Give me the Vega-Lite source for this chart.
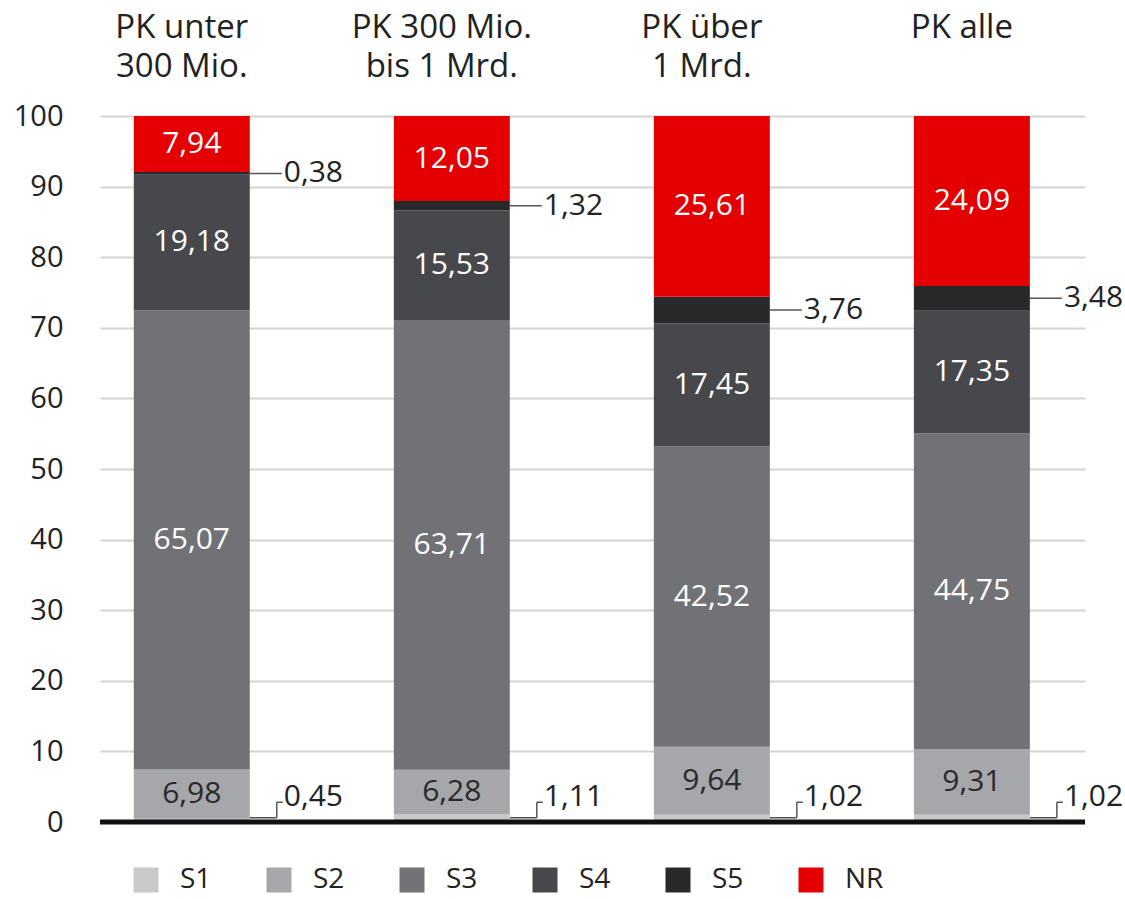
{
  "$schema": "https://vega.github.io/schema/vega-lite/v6.json",
  "width": 985,
  "height": 706,
  "autosize": "none",
  "padding": {"left": 100, "top": 116, "right": 40, "bottom": 77},
  "background": "white",
  "config": {
    "font": "Open Sans",
    "view": {"stroke": null},
    "locale": {"number": {"decimal": ",", "thousands": ".", "grouping": [3], "currency": ["", " €"]}}
  },
  "data": {
    "values": [
      {"group": "PK unter|300 Mio.", "seg": "S1", "value": 0.45},
      {"group": "PK unter|300 Mio.", "seg": "S2", "value": 6.98},
      {"group": "PK unter|300 Mio.", "seg": "S3", "value": 65.07},
      {"group": "PK unter|300 Mio.", "seg": "S4", "value": 19.18},
      {"group": "PK unter|300 Mio.", "seg": "S5", "value": 0.38},
      {"group": "PK unter|300 Mio.", "seg": "NR", "value": 7.94},
      {"group": "PK 300 Mio.|bis 1 Mrd.", "seg": "S1", "value": 1.11},
      {"group": "PK 300 Mio.|bis 1 Mrd.", "seg": "S2", "value": 6.28},
      {"group": "PK 300 Mio.|bis 1 Mrd.", "seg": "S3", "value": 63.71},
      {"group": "PK 300 Mio.|bis 1 Mrd.", "seg": "S4", "value": 15.53},
      {"group": "PK 300 Mio.|bis 1 Mrd.", "seg": "S5", "value": 1.32},
      {"group": "PK 300 Mio.|bis 1 Mrd.", "seg": "NR", "value": 12.05},
      {"group": "PK über|1 Mrd.", "seg": "S1", "value": 1.02},
      {"group": "PK über|1 Mrd.", "seg": "S2", "value": 9.64},
      {"group": "PK über|1 Mrd.", "seg": "S3", "value": 42.52},
      {"group": "PK über|1 Mrd.", "seg": "S4", "value": 17.45},
      {"group": "PK über|1 Mrd.", "seg": "S5", "value": 3.76},
      {"group": "PK über|1 Mrd.", "seg": "NR", "value": 25.61},
      {"group": "PK alle", "seg": "S1", "value": 1.02},
      {"group": "PK alle", "seg": "S2", "value": 9.31},
      {"group": "PK alle", "seg": "S3", "value": 44.75},
      {"group": "PK alle", "seg": "S4", "value": 17.35},
      {"group": "PK alle", "seg": "S5", "value": 3.48},
      {"group": "PK alle", "seg": "NR", "value": 24.09}
    ]
  },
  "transform": [
    {"calculate": "indexof(['S1','S2','S3','S4','S5','NR'], datum.seg)", "as": "ord"},
    {"stack": "value", "groupby": ["group"], "sort": [{"field": "ord", "order": "ascending"}], "as": ["y0", "y1"]},
    {"calculate": "(datum.y0 + datum.y1) / 2", "as": "mid"}
  ],
  "encoding": {
    "x": {
      "field": "group",
      "type": "nominal",
      "sort": null,
      "scale": {"paddingInner": 0.554, "paddingOuter": 0.171, "align": 0.38},
      "axis": {
        "orient": "top",
        "title": null,
        "domain": false,
        "ticks": false,
        "tickSize": 0,
        "labelAngle": 0,
        "labelFontSize": 33,
        "labelColor": "#222222",
        "labelPadding": 72,
        "labelLineHeight": 39,
        "labelOffset": -10,
        "labelLimit": 400,
        "labelOverlap": false,
        "labelExpr": "split(datum.label, '|')"
      }
    }
  },
  "layer": [
    {
      "mark": {"type": "bar"},
      "encoding": {
        "y": {
          "field": "y1",
          "type": "quantitative",
          "scale": {"domain": [0, 100], "nice": false},
          "axis": {
            "title": null,
            "values": [0, 10, 20, 30, 40, 50, 60, 70, 80, 90, 100],
            "domain": false,
            "ticks": false,
            "tickSize": 0,
            "labelFontSize": 29,
            "labelColor": "#222222",
            "labelPadding": 37,
            "grid": true,
            "gridColor": "#d4d4d4",
            "gridWidth": 2
          }
        },
        "y2": {"field": "y0"},
        "color": {
          "field": "seg",
          "type": "nominal",
          "scale": {
            "domain": ["S1", "S2", "S3", "S4", "S5", "NR"],
            "range": ["#c8c9cb", "#a6a7aa", "#717276", "#47484b", "#28292b", "#e50000"]
          },
          "legend": {
            "title": null,
            "orient": "none",
            "direction": "horizontal",
            "legendX": 32,
            "legendY": 750,
            "symbolType": "square",
            "symbolSize": 625,
            "symbolStrokeWidth": 0,
            "labelFontSize": 28,
            "labelColor": "#222222",
            "labelOffset": 20,
            "columnPadding": 53
          }
        }
      }
    },
    {
      "transform": [{"filter": "indexof(['S2','S3','S4','NR'], datum.seg) >= 0"}],
      "mark": {"type": "text", "fontSize": 30, "baseline": "middle", "align": "center"},
      "encoding": {
        "y": {"field": "mid", "type": "quantitative"},
        "text": {"field": "value", "type": "quantitative", "format": ".2f"},
        "color": {"condition": {"test": "datum.seg === 'S2'", "value": "#2a2a2a"}, "value": "#ffffff"}
      }
    },
    {
      "transform": [{"filter": "datum.seg === 'S5'"}],
      "mark": {"type": "rule", "color": "#555555", "strokeWidth": 1.5, "xOffset": 58, "x2Offset": 90},
      "encoding": {
        "y": {"field": "mid", "type": "quantitative"},
        "x2": {"field": "group"}
      }
    },
    {
      "transform": [{"filter": "datum.seg === 'S5'"}],
      "mark": {"type": "text", "fontSize": 30, "baseline": "middle", "align": "left", "dx": 92, "color": "#222222"},
      "encoding": {
        "y": {"field": "mid", "type": "quantitative"},
        "text": {"field": "value", "type": "quantitative", "format": ".2f"}
      }
    },
    {
      "transform": [{"filter": "datum.seg === 'S1'"}],
      "mark": {"type": "rule", "color": "#555555", "strokeWidth": 1.5, "xOffset": 58, "x2Offset": 85},
      "encoding": {
        "y": {"datum": 0.6},
        "x2": {"field": "group"}
      }
    },
    {
      "transform": [{"filter": "datum.seg === 'S1'"}],
      "mark": {"type": "rule", "color": "#555555", "strokeWidth": 1.5, "xOffset": 85},
      "encoding": {
        "y": {"datum": 0.6},
        "y2": {"datum": 2.8}
      }
    },
    {
      "transform": [{"filter": "datum.seg === 'S1'"}],
      "mark": {"type": "rule", "color": "#555555", "strokeWidth": 1.5, "xOffset": 85, "x2Offset": 91},
      "encoding": {
        "y": {"datum": 2.8},
        "x2": {"field": "group"}
      }
    },
    {
      "transform": [{"filter": "datum.seg === 'S1'"}],
      "mark": {"type": "text", "fontSize": 30, "baseline": "middle", "align": "left", "dx": 92, "color": "#222222"},
      "encoding": {
        "y": {"datum": 3.5},
        "text": {"field": "value", "type": "quantitative", "format": ".2f"}
      }
    },
    {
      "data": {"values": [{}]},
      "mark": {"type": "rule", "color": "#111111", "strokeWidth": 5},
      "encoding": {"y": {"datum": 0}, "x": null}
    }
  ]
}
